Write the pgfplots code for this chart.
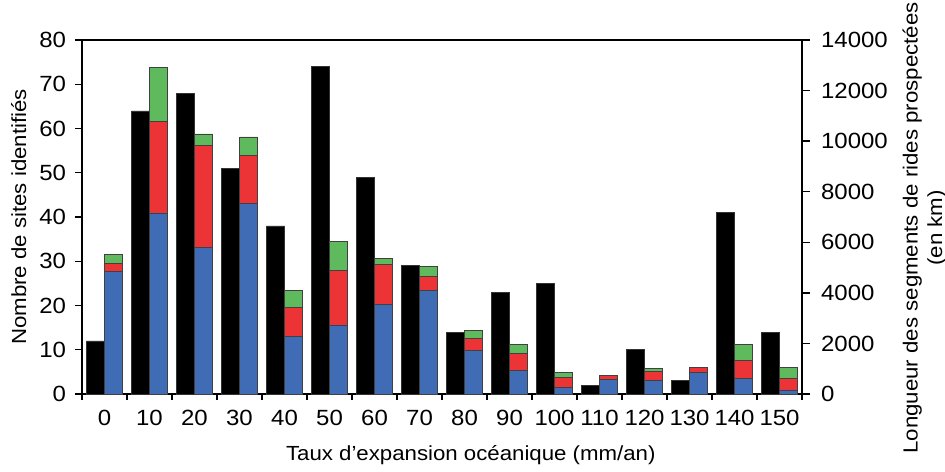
\documentclass[border=0pt]{standalone}
\usepackage{pgfplots}
\pgfplotsset{compat=1.18}
\usepackage{fontspec}
\setmainfont{Liberation Sans}[FakeStretch=1.09]
\definecolor{cblue}{RGB}{64,108,182}
\definecolor{cred}{RGB}{236,52,55}
\definecolor{cgreen}{RGB}{94,186,92}
\begin{document}
\begin{tikzpicture}
\useasboundingbox (-41pt,-38.5pt) rectangle (431.5pt,197pt);
\pgfplotsset{
  common/.style={
    at={(0,0)}, anchor=south west,
    width=360pt, height=177pt, scale only axis,
    xmin=-0.5, xmax=15.5,
    tick align=outside,
    axis line style={line width=0.7pt},
    every tick/.style={black, line width=0.7pt},
    tick label style={font=\fontsize{11}{13}\selectfont},
    /pgf/number format/assume math mode=true,
    /pgf/number format/1000 sep={},
    scaled y ticks=false,
    label style={font=\fontsize{10.2}{12.2}\selectfont},
  }
}
\begin{axis}[common,
  ymin=0, ymax=80,
  xtick={0,...,15},
  xticklabels={0,10,20,30,40,50,60,70,80,90,100,110,120,130,140,150},
  minor xtick={-0.5,0.5,...,15.5},
  major x tick style={draw=none},
  major tick length=3.5pt, minor tick length=3pt,
  xtick pos=bottom, ytick pos=left,
  ytick={0,10,...,80},
  xticklabel style={yshift=-1pt},
  yticklabel style={xshift=-1pt},
  ylabel={Nombre de sites identifiés},
  ylabel style={at={(axis description cs:-0.088,0.5)}, anchor=center},
  xlabel={Taux d’expansion océanique (mm/an)},
  xlabel style={at={(axis description cs:0.54,-0.174)}, anchor=center},
]
\addplot[ybar, bar width=9pt, bar shift=-4.5pt, fill=black, draw=black!80, line width=0.3pt]
coordinates {(0,12) (1,64) (2,68) (3,51) (4,38) (5,74) (6,49) (7,29) (8,14) (9,23) (10,25) (11,2) (12,10) (13,3) (14,41) (15,14)};
\end{axis}
\begin{axis}[common,
  ymin=0, ymax=14000,
  axis y line*=right, axis x line=none,
  ytick={0,2000,...,14000},
  major tick length=4pt,
  yticklabel style={xshift=2pt},
  ybar stacked, bar width=9pt, bar shift=4.5pt,
  ylabel={Longueur des segments de rides prospectées\\(en km)},
  ylabel style={at={(axis description cs:1.17,0.469)}, anchor=center, align=center, rotate=0},
]
\addplot[fill=cblue, draw=black!75, line width=0.3pt]
coordinates {(0,4850) (1,7160) (2,5810) (3,7550) (4,2290) (5,2730) (6,3550) (7,4090) (8,1710) (9,920) (10,260) (11,590) (12,530) (13,860) (14,620) (15,160)};
\addplot[fill=cred, draw=black!75, line width=0.3pt]
coordinates {(0,320) (1,3625) (2,4025) (3,1880) (4,1140) (5,2150) (6,1590) (7,550) (8,490) (9,700) (10,385) (11,135) (12,365) (13,180) (14,700) (15,460)};
\addplot[fill=cgreen, draw=black!75, line width=0.3pt]
coordinates {(0,340) (1,2135) (2,450) (3,740) (4,660) (5,1150) (6,225) (7,395) (8,330) (9,356) (10,210) (11,0) (12,120) (13,0) (14,645) (15,435)};
\end{axis}
\end{tikzpicture}
\end{document}
